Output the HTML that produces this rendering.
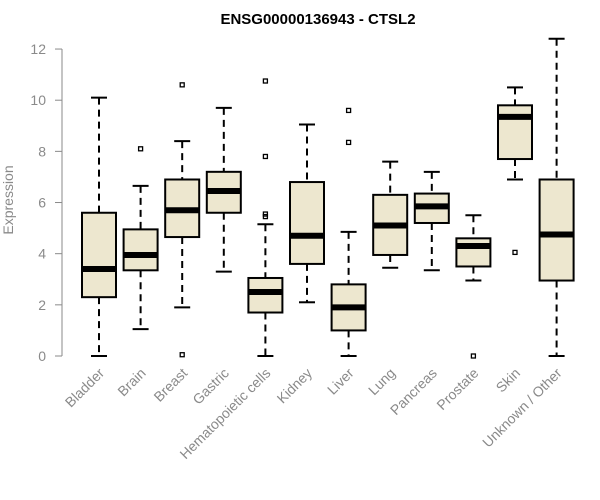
<!DOCTYPE html>
<html><head><meta charset="utf-8"><style>
html,body{margin:0;padding:0;background:#fff;}
svg{display:block;font-family:"Liberation Sans",Arial,sans-serif;}
</style></head><body>
<svg id="chart" width="600" height="500" viewBox="0 0 600 500"></svg>
<script>
const categories=["Bladder","Brain","Breast","Gastric","Hematopoietic cells","Kidney","Liver","Lung","Pancreas","Prostate","Skin","Unknown / Other"];
const whiskerLow=[0,1.05,1.9,3.3,0,2.1,0,3.45,3.35,2.95,6.9,0];
const q1=[2.3,3.35,4.65,5.6,1.7,3.6,1.0,3.95,5.2,3.5,7.7,2.95];
const medians=[3.4,3.95,5.7,6.45,2.5,4.7,1.9,5.1,5.85,4.3,9.35,4.75];
const q3=[5.6,4.95,6.9,7.2,3.05,6.8,2.8,6.3,6.35,4.6,9.8,6.9];
const whiskerHigh=[10.1,6.65,8.4,9.7,5.15,9.05,4.85,7.6,7.2,5.5,10.5,12.4];
const outliers=[[],[8.1],[10.6,0.05],[],[10.75,7.8,5.55,5.45],[],[9.6,8.35],[],[],[0],[4.05],[]];
const yTicks=[0,2,4,6,8,10,12];

const svg=document.getElementById('chart');
const NS='http://www.w3.org/2000/svg';
function mk(t,a,p){const e=document.createElementNS(NS,t);for(const k in a)e.setAttribute(k,a[k]);(p||svg).appendChild(e);return e;}
const y=v=>356-v*25.58;
const x=i=>99+i*41.6;
const bw=17;

const title=mk('text',{x:318,y:24,'text-anchor':'middle','font-size':15,'font-weight':'bold',fill:'#000'});
title.textContent='ENSG00000136943 - CTSL2';



const yl=mk('text',{x:0,y:0,transform:'translate(13,200) rotate(-90)','text-anchor':'middle','font-size':14,fill:'#8a8a8a'});
yl.textContent='Expression';



const ax=mk('line',{x1:62,x2:62,y1:y(0),y2:y(12),stroke:'#8a8a8a','stroke-width':1});


yTicks.forEach(v=>{
  mk('line',{x1:55,x2:62,y1:y(v),y2:y(v),stroke:'#8a8a8a'});
  const t=mk('text',{x:46,y:y(v)+5,'text-anchor':'end','font-size':14,fill:'#8a8a8a'});
  t.textContent=v;
  
  
});

categories.forEach((c,i)=>{
  const cx=x(i);
  const g=mk('g',{});
  
  
  mk('line',{x1:cx,x2:cx,y1:y(whiskerHigh[i]),y2:y(q3[i]),stroke:'#000','stroke-width':2,'stroke-dasharray':'7,5'},g);
  mk('line',{x1:cx,x2:cx,y1:y(q1[i]),y2:y(whiskerLow[i]),stroke:'#000','stroke-width':2,'stroke-dasharray':'7,5'},g);
  mk('line',{x1:cx-8,x2:cx+8,y1:y(whiskerHigh[i]),y2:y(whiskerHigh[i]),stroke:'#000','stroke-width':2},g);
  mk('line',{x1:cx-8,x2:cx+8,y1:y(whiskerLow[i]),y2:y(whiskerLow[i]),stroke:'#000','stroke-width':2},g);
  mk('rect',{x:cx-bw,y:y(q3[i]),width:bw*2,height:y(q1[i])-y(q3[i]),fill:'#ede7cf',stroke:'#000','stroke-width':2},g);
  mk('line',{x1:cx-bw,x2:cx+bw,y1:y(medians[i]),y2:y(medians[i]),stroke:'#000','stroke-width':6},g);
  outliers[i].forEach(o=>mk('rect',{x:cx-2,y:y(o)-2,width:4,height:4,fill:'none',stroke:'#000','stroke-width':1.3},g));
  const t=mk('text',{x:0,y:0,transform:`translate(${cx+6},${374}) rotate(-45)`,'text-anchor':'end','font-size':14,fill:'#8a8a8a'});
  t.textContent=c;
  
  
});
</script>
</body></html>
